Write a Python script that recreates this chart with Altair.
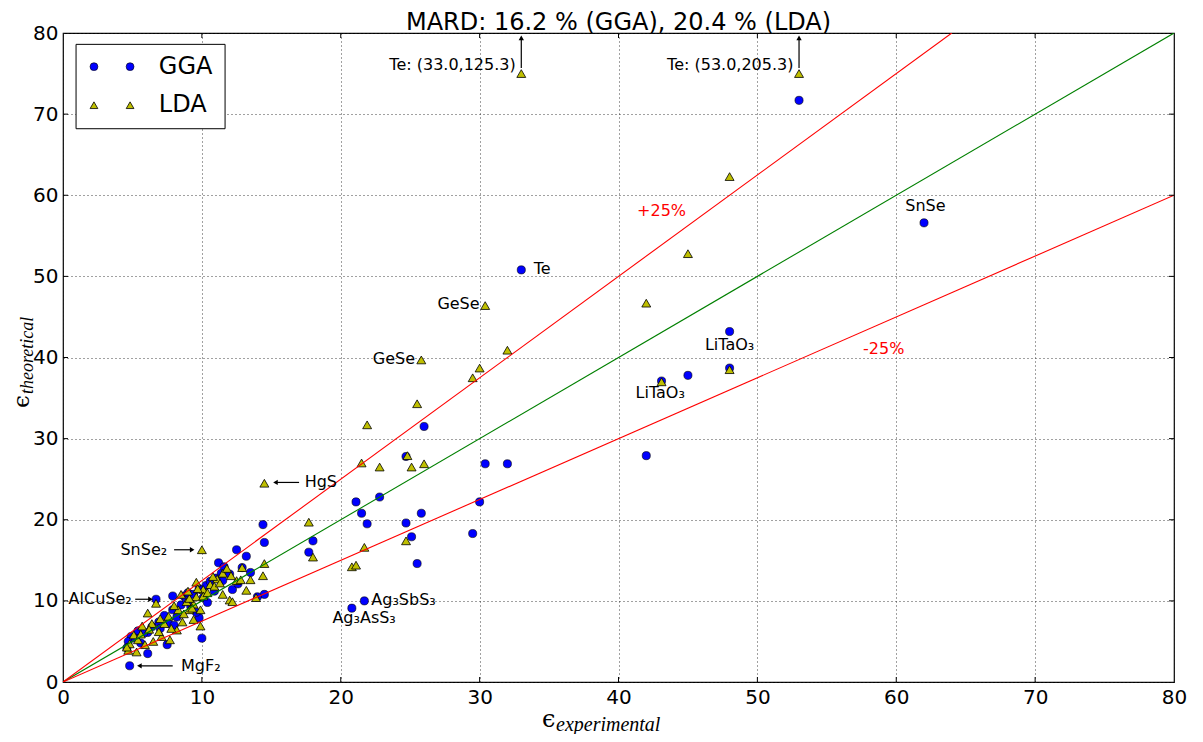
import altair as alt
import pandas as pd

# ---------------- data ----------------
gga_x = [33.0, 53.0, 62.0, 48.0, 45.0, 43.1, 48.0, 42.0, 26.0, 24.7, 30.4, 32.0, 30.0, 29.5,
         21.1, 22.8, 21.5, 21.9, 24.7, 25.8, 25.1, 25.5, 18.0, 17.7, 21.7, 20.8,
         14.4, 14.5, 12.5, 13.2, 11.2, 12.9, 13.5, 12.0, 11.5, 12.2, 14.5, 14.0, 11.4, 9.8,
         10.0, 7.5, 6.1, 4.8, 6.7, 7.9, 7.9, 5.4, 4.9, 4.7, 6.1, 4.6, 5.2, 5.8, 6.4, 6.9,
         7.3, 7.6, 8.2, 8.5, 8.7, 8.9, 9.0, 9.2, 9.4, 9.6, 9.8, 10.1, 10.3, 10.6, 10.9, 11.0,
         11.6, 8.0, 7.0, 5.6, 10.4, 12.6]
gga_y = [50.8, 71.7, 56.6, 43.2, 37.8, 37.1, 38.7, 27.9, 31.5, 27.8, 26.9, 26.9, 22.2, 18.3,
         22.2, 22.8, 20.8, 19.5, 19.6, 20.8, 17.9, 14.6, 17.4, 16.0, 10.0, 9.1,
         19.4, 17.2, 16.3, 15.5, 14.7, 14.1, 13.5, 13.3, 12.5, 11.4, 10.8, 10.5, 13.4, 7.9,
         5.4, 4.6, 3.5, 2.0, 10.2, 10.6, 8.9, 6.3, 5.6, 5.0, 6.1, 4.2, 5.4, 6.0, 6.8, 7.4,
         8.2, 7.2, 8.0, 9.5, 10.6, 10.1, 11.0, 9.3, 10.8, 8.6, 11.5, 10.4, 11.9, 12.4, 11.2, 12.8,
         14.2, 7.0, 6.6, 4.8, 9.8, 12.1]

lda_x = [33.0, 53.0, 48.0, 45.0, 42.0, 48.0, 43.1, 30.4, 25.8, 32.0, 30.0, 29.5, 25.5, 21.9,
         24.8, 21.5, 22.8, 25.1, 26.0, 17.7, 18.0, 21.7, 24.7, 20.8, 21.1, 14.5,
         10.0, 14.5, 14.4, 13.5, 13.2, 12.0, 12.2, 13.9, 12.9, 12.5, 11.5, 12.1, 11.1, 10.6,
         11.5, 9.6, 10.1, 9.6, 10.1, 9.4, 9.9, 9.4, 9.9, 10.8, 11.8, 6.1, 6.7, 5.7, 4.8, 4.7,
         5.3, 5.9, 6.5, 5.4, 7.1, 7.7, 8.2, 7.3, 8.6, 7.6, 8.3, 9.1, 8.9, 9.1, 6.9, 8.0, 8.7,
         9.3, 10.4, 6.4, 7.0, 5.1, 6.2, 7.8, 8.5, 10.9, 9.7, 4.6, 5.6, 11.3, 12.8, 9.0]
lda_y = [75.0, 75.0, 62.3, 52.8, 46.7, 38.5, 37.0, 46.4, 39.7, 40.9, 38.7, 37.5, 34.3, 31.7,
         27.9, 27.0, 26.5, 26.5, 26.9, 19.7, 15.4, 16.6, 17.4, 14.2, 14.4, 24.5,
         16.3, 14.6, 13.1, 12.6, 11.3, 10.1, 9.9, 10.4, 14.1, 12.5, 13.4, 13.1, 12.7, 12.0,
         10.8, 12.3, 11.4, 10.5, 10.6, 9.6, 8.9, 7.7, 6.9, 13.0, 14.0, 8.5, 9.7, 6.9, 4.7, 3.9,
         3.7, 4.6, 5.0, 5.2, 5.6, 5.2, 6.4, 7.2, 7.4, 8.1, 8.9, 8.9, 9.9, 10.3, 6.2, 9.4, 8.4,
         9.1, 11.0, 7.2, 7.8, 5.8, 6.5, 6.6, 10.8, 11.8, 11.5, 4.3, 5.9, 12.2, 12.6, 11.2]

# reference lines: y = x, y = 1.25 x, y = 0.75 x
line_names = ["exact", "exact", "plus25", "plus25", "minus25", "minus25"]
line_x = [0, 80, 0, 64, 0, 80]
line_y = [0, 80, 0, 80, 0, 60]
line_colors = ["#008000", "#008000", "#ff0000", "#ff0000", "#ff0000", "#ff0000"]

tick_values = [0, 10, 20, 30, 40, 50, 60, 70, 80]

title_text = "MARD: 16.2 % (GGA), 20.4 % (LDA)"

# annotations (text, x, y, align, color)
ann_text = ["Te", "GeSe", "GeSe", "LiTaO₃", "LiTaO₃", "SnSe", "Ag₃SbS₃", "Ag₃AsS₃",
            "Te: (33.0,125.3)", "Te: (53.0,205.3)", "SnSe₂", "AlCuSe₂", "MgF₂", "HgS",
            "+25%", "-25%"]
ann_x = [33.9, 30.0, 25.35, 48.0, 43.0, 62.1, 22.2, 19.4, 32.6, 52.6, 7.5, 4.95, 8.5, 17.4,
         43.1, 59.1]
ann_y = [50.9, 46.6, 39.8, 41.5, 35.6, 58.7, 10.1, 7.85, 76.0, 76.0, 16.3, 10.2, 2.0, 24.6,
         58.0, 41.0]
ann_align = ["left", "right", "right", "center", "center", "center", "left", "left",
             "right", "right", "right", "right", "left", "left", "center", "center"]
ann_color = ["#000000"] * 14 + ["#ff0000", "#ff0000"]

# arrows: tail (x, y) -> tip (x2, y2)
arrow_x = [33.0, 53.0, 8.0, 5.2, 7.9, 17.0]
arrow_y = [75.7, 75.7, 16.3, 10.2, 2.0, 24.6]
arrow_x2 = [33.0, 53.0, 9.3, 6.3, 5.5, 15.3]
arrow_y2 = [79.4, 79.4, 16.3, 10.2, 2.0, 24.6]
arrow_head = ["triangle-up", "triangle-up", "triangle-right", "triangle-right",
              "triangle-left", "triangle-left"]

# legend (placed in data coordinates, top-left of plot)
legend_box = {"x": 0.94, "x2": 11.67, "y": 78.6, "y2": 68.2}
legend_marker_x = [2.23, 4.83]
legend_rows_y = [75.85, 71.1]
legend_labels = ["GGA", "LDA"]
legend_text_x = 6.9

# ---------------- build tables ----------------
gga = pd.DataFrame({"x": gga_x, "y": gga_y})
lda = pd.DataFrame({"x": lda_x, "y": lda_y})
lines = pd.DataFrame({"x": line_x, "y": line_y, "name": line_names, "color": line_colors})
ann = pd.DataFrame({"text": ann_text, "x": ann_x, "y": ann_y, "align": ann_align, "color": ann_color})
arrows = pd.DataFrame({"x": arrow_x, "y": arrow_y, "x2": arrow_x2, "y2": arrow_y2, "head": arrow_head})
ticks_in = [v for v in tick_values if 0 < v < 80]

FONT = "DejaVu Sans"
W, H = 1111, 649
xscale = alt.Scale(domain=[0, 80], nice=False, zero=False)
yscale = alt.Scale(domain=[0, 80], nice=False, zero=False)

common_axis = dict(values=tick_values, title=None, grid=True, ticks=False, domain=False,
                   labelFontSize=20, labelFont=FONT, labelColor="black",
                   labelFlush=False, labelOverlap=False, gridDash=[1, 3], gridColor="#222",
                   gridWidth=1, gridOpacity=0.85)
xaxis = alt.Axis(labelPadding=5, **common_axis)
yaxis = alt.Axis(labelPadding=5, **common_axis)

base_x = alt.X("x:Q", scale=xscale, axis=xaxis)
base_y = alt.Y("y:Q", scale=yscale, axis=yaxis)

pts_gga = alt.Chart(gga).mark_point(shape="circle", filled=True, fill="#0000ff", stroke="black",
                                    strokeWidth=0.6, size=66, opacity=1).encode(x=base_x, y=base_y)
pts_lda = alt.Chart(lda).mark_point(shape="triangle-up", filled=True, fill="#bfbf00", stroke="black",
                                    strokeWidth=0.8, size=80, opacity=1).encode(x="x:Q", y="y:Q")

ref_lines = alt.Chart(lines).mark_line(strokeWidth=1.1, clip=True).encode(
    x="x:Q", y="y:Q", detail="name:N", color=alt.Color("color:N", scale=None))

# inward ticks on all four sides
tick_df = pd.DataFrame({"v": ticks_in})
tb = alt.Chart(tick_df).mark_rule(color="black", strokeWidth=1).encode(
    x="v:Q", y=alt.value(H), y2=alt.value(H - 5))
tt = alt.Chart(tick_df).mark_rule(color="black", strokeWidth=1).encode(
    x="v:Q", y=alt.value(0), y2=alt.value(5))
tl = alt.Chart(tick_df).mark_rule(color="black", strokeWidth=1).encode(
    y="v:Q", x=alt.value(0), x2=alt.value(5))
tr = alt.Chart(tick_df).mark_rule(color="black", strokeWidth=1).encode(
    y="v:Q", x=alt.value(W), x2=alt.value(W - 5))

ann_layers = []
for al in ["left", "right", "center"]:
    sub = ann[ann["align"] == al]
    ann_layers.append(alt.Chart(sub).mark_text(align=al, baseline="middle", font=FONT,
                                               fontSize=16).encode(
        x="x:Q", y="y:Q", text="text:N", color=alt.Color("color:N", scale=None)))

arrow_shafts = alt.Chart(arrows).mark_rule(color="black", strokeWidth=1.2).encode(
    x="x:Q", y="y:Q", x2="x2:Q", y2="y2:Q")
arrow_heads = []
for shp in ["triangle-up", "triangle-right", "triangle-left"]:
    sub = arrows[arrows["head"] == shp]
    arrow_heads.append(alt.Chart(sub).mark_point(shape=shp, filled=True, color="black",
                                                 size=28, opacity=1).encode(x="x2:Q", y="y2:Q"))

# legend
lb = pd.DataFrame([legend_box])
leg_box = alt.Chart(lb).mark_rect(fill="white", stroke="black", strokeWidth=1).encode(
    x="x:Q", x2="x2:Q", y="y:Q", y2="y2:Q")
leg_gga = alt.Chart(pd.DataFrame({"x": legend_marker_x, "y": [legend_rows_y[0]] * 2})).mark_point(
    shape="circle", filled=True, fill="#0000ff", stroke="black", strokeWidth=0.6, size=62,
    opacity=1).encode(x="x:Q", y="y:Q")
leg_lda = alt.Chart(pd.DataFrame({"x": legend_marker_x, "y": [legend_rows_y[1]] * 2})).mark_point(
    shape="triangle-up", filled=True, fill="#bfbf00", stroke="black", strokeWidth=0.8, size=60,
    opacity=1).encode(x="x:Q", y="y:Q")
leg_txt = alt.Chart(pd.DataFrame({"x": [legend_text_x] * 2, "y": legend_rows_y, "t": legend_labels})).mark_text(
    align="left", baseline="middle", font=FONT, fontSize=24, color="black").encode(
    x="x:Q", y="y:Q", text="t:N")

# title and axis titles (math-style epsilon with subscript)
one = pd.DataFrame({"a": [0]})
title_mark = alt.Chart(one).mark_text(text=title_text, font=FONT, fontSize=24, align="center",
                                      baseline="alphabetic", color="black").encode(
    x=alt.value(W / 2), y=alt.value(-3.5))
xt_eps = alt.Chart(one).mark_text(text="ϵ", font="DejaVu Serif", fontSize=24, align="left",
                                  baseline="alphabetic", color="black").encode(
    x=alt.value(479), y=alt.value(694))
xt_sub = alt.Chart(one).mark_text(text="experimental", font="Liberation Serif", fontStyle="italic",
                                  fontSize=20, align="left", baseline="alphabetic", color="black").encode(
    x=alt.value(493), y=alt.value(698))
yt_eps = alt.Chart(one).mark_text(text="ϵ", font="DejaVu Serif", fontSize=23, align="left",
                                  baseline="alphabetic", angle=270, color="black").encode(
    x=alt.value(-34), y=alt.value(375))
yt_sub = alt.Chart(one).mark_text(text="theoretical", font="Liberation Serif", fontStyle="italic",
                                  fontSize=18, align="left", baseline="alphabetic", angle=270,
                                  color="black").encode(
    x=alt.value(-30), y=alt.value(361))

chart = alt.layer(
    pts_gga, pts_lda, ref_lines, tb, tt, tl, tr, *ann_layers, arrow_shafts, *arrow_heads,
    leg_box, leg_gga, leg_lda, leg_txt, title_mark, xt_eps, xt_sub, yt_eps, yt_sub
).properties(
    width=W, height=H,
    autosize=alt.AutoSizeParams(type="none"),
    padding={"left": 55, "top": 25, "right": 16, "bottom": 52},
).configure_view(stroke="black", strokeWidth=1.2)

chart.save("out.html", embed_options={"renderer": "svg", "actions": False})
